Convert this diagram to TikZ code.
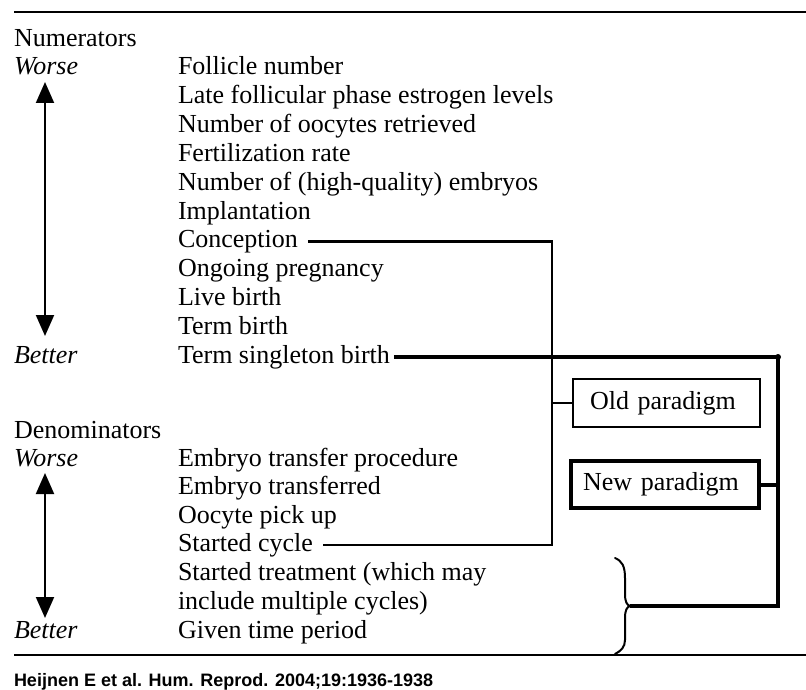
\documentclass[tikz,border=0pt]{standalone}
\usepackage{fontspec}
\setmainfont{Liberation Serif}
\newfontfamily\capfont{Liberation Sans}
\usetikzlibrary{arrows.meta}
\begin{document}
\begin{tikzpicture}[x=1pt,y=-1pt,
  every node/.style={inner sep=0pt, outer sep=0pt},
  lbl/.style={anchor=base west, font=\fontsize{26}{29}\selectfont, text height=13pt, text depth=0pt},
  ilbl/.style={lbl, font=\fontsize{26}{29}\selectfont\itshape},
  rule/.style={line width=2.4pt},
  scale arrow/.style={line width=2pt, {Triangle[width=18pt,length=21pt]}-{Triangle[width=18pt,length=21pt]}},
  oldline/.style={line width=2.6pt},
  newline/.style={line width=4pt},
  oldbox/.style={draw, line width=1.5pt, minimum height=48pt, text width=153pt, inner xsep=17pt, align=left, font=\fontsize{26}{29}\selectfont},
  newbox/.style={draw, line width=3.6pt, minimum height=47pt, text width=164pt, inner xsep=12pt, align=left, font=\fontsize{26}{29}\selectfont},
  bracepen/.style={line width=2pt, line cap=round}
]
\useasboundingbox (0,0) rectangle (806,690);

% rules above and below the table
\draw[rule] (14,12) -- (806,12);
\draw[rule] (14,655) -- (806,655);

% numerators
\node[lbl] (numh) at (14,46.5) {Numerators};
\node[ilbl] (nworse) at (14,74.5) {Worse};
\node[ilbl] (nbetter) at (14,363.5) {Better};
\draw[scale arrow] (45,82) -- (45,336);

\node[lbl] (n1) at (178,74.5) {Follicle number};
\node[lbl] (n2) at (178,103.4) {Late follicular phase estrogen levels};
\node[lbl] (n3) at (178,132.3) {Number of oocytes retrieved};
\node[lbl] (n4) at (178,161.2) {Fertilization rate};
\node[lbl] (n5) at (178,190.1) {Number of (high-quality) embryos};
\node[lbl] (n6) at (178,219.0) {Implantation};
\node[lbl] (conc) at (178,247.9) {Conception};
\node[lbl] (n8) at (178,276.8) {Ongoing pregnancy};
\node[lbl] (n9) at (178,305.7) {Live birth};
\node[lbl] (n10) at (178,334.6) {Term birth};
\node[lbl] (term) at (178,363.5) {Term singleton birth};

% denominators
\node[lbl] (denh) at (14,438) {Denominators};
\node[ilbl] (dworse) at (14,466) {Worse};
\node[ilbl] (dbetter) at (14,638) {Better};
\draw[scale arrow] (45,473) -- (45,618);

\node[lbl] (d1) at (178,466.0) {Embryo transfer procedure};
\node[lbl] (d2) at (178,494.7) {Embryo transferred};
\node[lbl] (d3) at (178,523.3) {Oocyte pick up};
\node[lbl] (scyc) at (178,551.5) {Started cycle};
\node[lbl] (d5) at (178,580.7) {Started treatment (which may};
\node[lbl] (d6) at (178,609.3) {include multiple cycles)};
\node[lbl] (d7) at (178,638.0) {Given time period};

% paradigm boxes
\node[oldbox] (oldp) at (666.5,403) {Old paradigm};
\node[newbox] (newp) at (665,484.5) {New paradigm};

% bus lines
\coordinate (obus) at (552,0);
\coordinate (nbus) at (778,0);
\coordinate (cusp) at (630,606);

% old paradigm: conception over started cycle
\draw[oldline] ([xshift=10pt]conc.east) -| (obus |- scyc.east) -- ([xshift=10pt]scyc.east);
\draw[line width=1.6pt] (oldp.west) -- (obus |- oldp.west);

% new paradigm: term singleton birth over treatment / time period
\draw[newline] ([xshift=4pt]term.east) -| (nbus |- cusp) -- (cusp);
\draw[newline] (newp.east) -- (nbus |- newp.east);
\fill (nbus |- term.east) circle (3pt);

% brace grouping the last denominators
\draw[bracepen] (615,558) .. controls (622,561) and (625,566) .. (625,578) -- (625,594)
  .. controls (625,602) and (627,605) .. (cusp)
  .. controls (627,607) and (625,610) .. (625,618) -- (625,640)
  .. controls (625,647) and (621,651) .. (615,654);

% source line
\node[anchor=base west, font=\capfont\bfseries\fontsize{18}{20}\selectfont] (src) at (14,686) {Heijnen E et al. Hum. Reprod. 2004;19:1936-1938};
\end{tikzpicture}
\end{document}
